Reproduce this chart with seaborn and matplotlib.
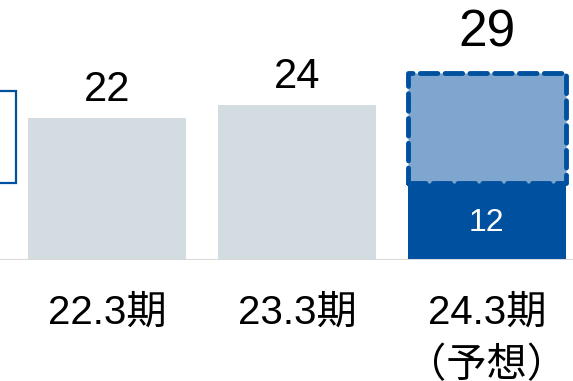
import matplotlib
matplotlib.use("Agg")
import matplotlib.pyplot as plt
import seaborn as sns
import pandas as pd

# ---- data ----
categories = ["22.3期", "23.3期", "24.3期\n（予想）"]
actual = [22, 24, 12]          # solid part of each bar
forecast_extra = [0, 0, 17]    # forecast (dashed) part on top
totals = [22, 24, 29]          # labels above bars
inner_labels = ["", "", "12"]
prev_box_bottom = [12]         # partially visible element at left edge
prev_box_top = [26.2]

sns.set_theme(style="white")
plt.rcParams["font.family"] = ["Liberation Sans", "Noto Sans CJK JP", "DejaVu Sans"]

GREY = "#D3DCE0"
DARK = "#0050A0"
LIGHT = "#7FA6CF"

fig = plt.figure(figsize=(5.73, 3.81), dpi=100)
ax = fig.add_axes([0, 121 / 381, 1, 260 / 381])

df = pd.DataFrame({"cat": categories, "val": actual})
sns.barplot(data=df, x="cat", y="val", hue="cat", palette=[GREY, GREY, DARK],
            width=0.83, legend=False, ax=ax, saturation=1, linewidth=0)

# forecast segment
ax.bar(2, forecast_extra[2], bottom=actual[2], width=0.83, color=LIGHT,
       edgecolor=DARK, linewidth=3.5, linestyle=(0, (3.6, 1.5)),
       joinstyle="round", capstyle="round", zorder=3)

# partially visible box on the left
ax.bar(-1, prev_box_top[0] - prev_box_bottom[0], bottom=prev_box_bottom[0],
       width=1.042, color="white", edgecolor=DARK, linewidth=1.6, zorder=3)

# value labels
for i, t in enumerate(totals):
    fs = 37 if i == 2 else 30
    off = 2.4 if i == 2 else 1.3
    ax.text(i, t + off, str(t), ha="center", va="bottom", fontsize=fs, color="black")
for i, lab in enumerate(inner_labels):
    if lab:
        ax.text(i, actual[i] / 2 - 0.25, lab, ha="center", va="center", fontsize=23, color="white")

ax.axhline(0, color="#D9D9D9", lw=2.2, zorder=4)

ax.set_xlim(-0.563, 2.453)
ax.set_ylim(0, 40.3)
ax.set_xlabel("")
ax.set_ylabel("")
ax.set_yticks([])
ax.tick_params(axis="x", length=0, pad=24, labelsize=29, labelcolor="black")
for lab in ax.get_xticklabels():
    lab.set_linespacing(1.5)
for s in ax.spines.values():
    s.set_visible(False)
ax.patch.set_alpha(0)

fig.savefig("out.png", dpi=100)
